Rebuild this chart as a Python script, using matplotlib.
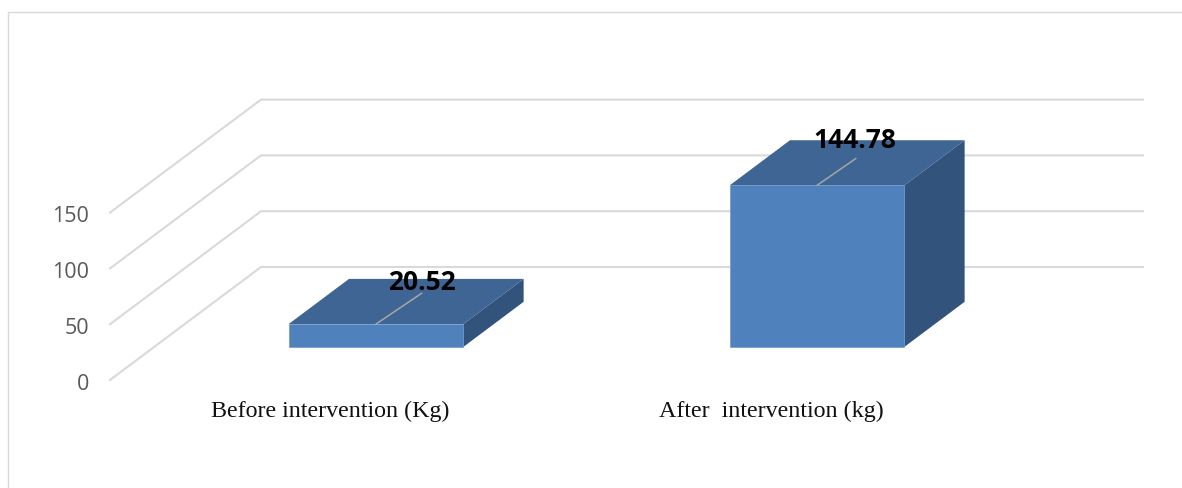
import matplotlib
matplotlib.use('Agg')
import matplotlib.pyplot as plt
from matplotlib.lines import Line2D
from matplotlib.patches import Polygon
from matplotlib.transforms import ScaledTranslation

categories = ['Before intervention (Kg)', 'After  intervention (kg)']
values = [20.52, 144.78]
value_ticks = [0, 50, 100, 150]

# oblique projection: one unit of depth moves this far in data units
depth_x = 151 / 441
depth_y = 113 / 1.116
bar_width = 0.396
bar_shift = 0.003
bar_near = 0.292
bar_far = 0.692

grid_color = '#d9d9d9'
front_color = '#4f81bd'
top_color = '#3e6594'
side_color = '#32547c'


def project(x, v, d):
    return (x + d * depth_x, v + d * depth_y)


fig = plt.figure(figsize=(11.82, 4.88), dpi=100)
ax = fig.add_axes([110 / 1182, 108 / 488, 882 / 1182, 167.4 / 488])
ax.set_xlim(-0.5, 1.5)
ax.set_ylim(0, 150)
for s in ax.spines.values():
    s.set_visible(False)
ax.patch.set_visible(False)

# chart frame, open on the right and at the bottom
fig.add_artist(Line2D([8 / 1182, 8 / 1182, 1], [0, 476 / 488, 476 / 488],
                      color=grid_color, lw=1.0))

# gridlines run across the floor then along the back wall
for v in value_ticks:
    xs, ys = zip(project(-0.5, v, 0), project(-0.5, v, 1), project(1.5, v, 1))
    ax.plot(xs, ys, color=grid_color, lw=1.5, clip_on=False, zorder=1,
            solid_joinstyle='miter')

# leader length and label offset in pixels, one per bar
leaders = [(46, 31), (39, 27)]
label_gaps = [(46, 42), (38, 45)]

for i, v in enumerate(values):
    c = i + bar_shift
    l, r = c - bar_width / 2, c + bar_width / 2
    front = [project(l, 0, bar_near), project(r, 0, bar_near),
             project(r, v, bar_near), project(l, v, bar_near)]
    top = [project(l, v, bar_near), project(r, v, bar_near),
           project(r, v, bar_far), project(l, v, bar_far)]
    side = [project(r, 0, bar_near), project(r, 0, bar_far),
            project(r, v, bar_far), project(r, v, bar_near)]
    ax.add_patch(Polygon(side, fc=side_color, ec='none', clip_on=False, zorder=3))
    ax.add_patch(Polygon(top, fc=top_color, ec='none', clip_on=False, zorder=3))
    ax.add_patch(Polygon(front, fc=front_color, ec='#6f9aca', lw=0.5,
                         clip_on=False, zorder=4))

    anchor = project(c, v, bar_near)
    ax.annotate('', xy=anchor, xytext=leaders[i], textcoords='offset pixels',
                arrowprops=dict(arrowstyle='-', color='#a6a6a6', lw=1.1,
                                shrinkA=0, shrinkB=0),
                annotation_clip=False, zorder=5)
    ax.annotate(f'{v:.2f}', xy=anchor, xytext=label_gaps[i],
                textcoords='offset pixels', ha='center', va='center',
                family='Open Sans', fontweight='bold', fontsize=19,
                color='black', annotation_clip=False, zorder=6)

ax.set_xticks(range(len(categories)))
ax.set_xticklabels(categories, family='Liberation Serif', fontsize=17.3, color='#111111')
ax.set_yticks(value_ticks)
ax.tick_params(axis='x', length=0, pad=15)
ax.tick_params(axis='y', length=0, pad=15, labelsize=15.5, labelcolor='#595959')

# nudge the value labels down a touch
nudge = ScaledTranslation(0, -1.5 / 100, fig.dpi_scale_trans)
for t in ax.get_yticklabels():
    t.set_family('Open Sans')
    t.set_transform(t.get_transform() + nudge)

fig.savefig('out.png', dpi=100)
